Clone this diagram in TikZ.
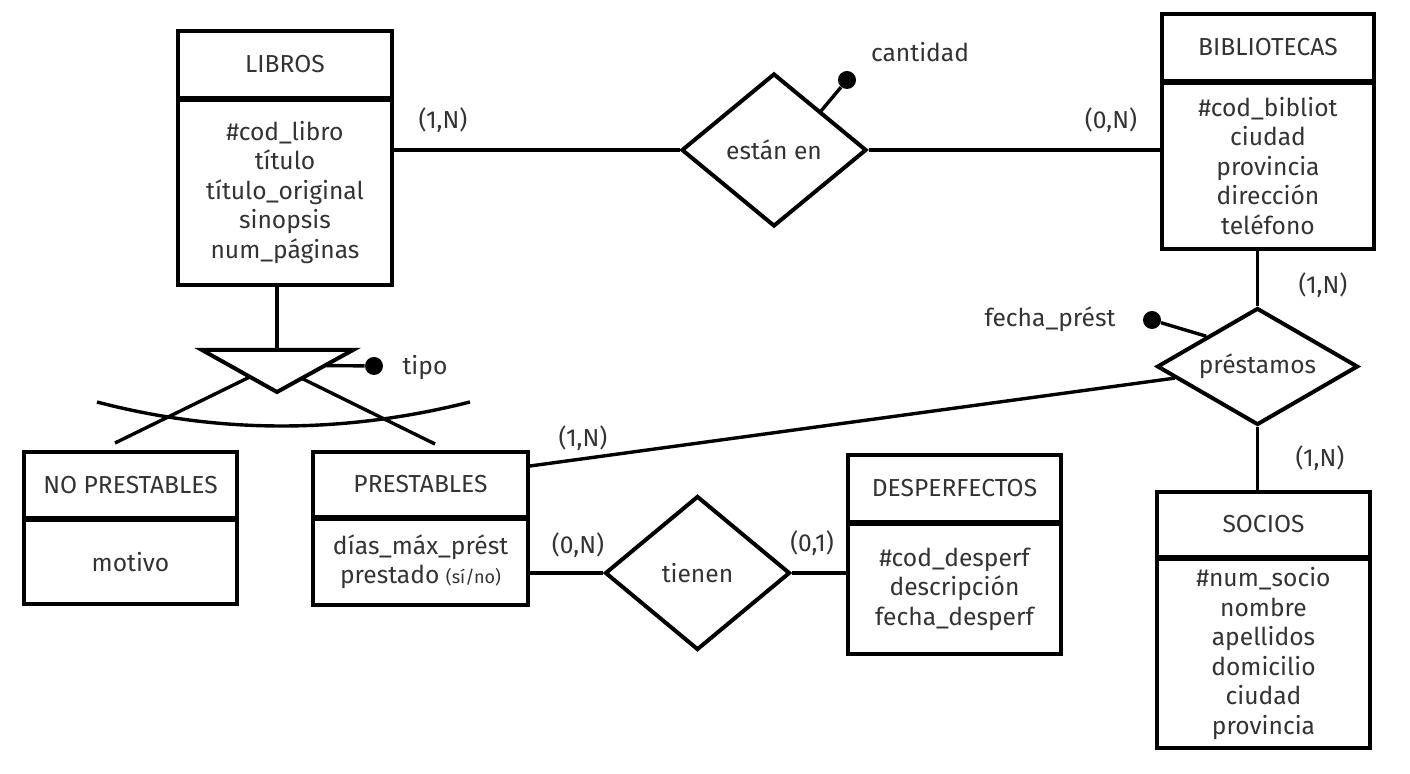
\documentclass[tikz,border=0pt]{standalone}
\usepackage{fontspec}
\setmainfont{Fira Sans}
\usepackage{tikz}
\usetikzlibrary{calc, positioning, shapes.geometric}
\usepackage{xcolor}
\definecolor{texto}{HTML}{333333}

\begin{document}
\begin{tikzpicture}[x=0.5pt, y=-0.5pt,
    letra/.style={text=texto, font=\fontsize{12.3}{14.75}\selectfont, inner sep=0pt},
    caja/.style={letra, draw=black, line width=2pt, align=center},
    relacion/.style={letra, diamond, draw=black, line width=2pt},
    linea/.style={line width=1.7pt},
    punto/.style={circle, fill=black, inner sep=0pt, minimum size=9pt}]
    \useasboundingbox (0,0) rectangle (1410,774);

    % LIBROS
    \node[caja, minimum width=107pt, minimum height=33.5pt] (libros) at (285,64.5) {LIBROS};
    \node[caja, minimum width=107pt, minimum height=92.5pt, below=-1pt of libros] (libros-at)
        {\#cod\_libro\\título\\título\_original\\sinopsis\\num\_páginas};

    % BIBLIOTECAS
    \node[caja, minimum width=106pt, minimum height=33.5pt] (biblio) at (1268,47.5) {BIBLIOTECAS};
    \node[caja, minimum width=106pt, minimum height=83pt, below=-1pt of biblio] (biblio-at)
        {\#cod\_bibliot\\ciudad\\provincia\\dirección\\teléfono};

    % NO PRESTABLES
    \node[caja, minimum width=106.5pt, minimum height=33pt] (noprest) at (130.5,485) {NO PRESTABLES};
    \node[caja, minimum width=106.5pt, minimum height=42pt, below=-1pt of noprest] (noprest-at) {motivo};

    % PRESTABLES
    \node[caja, minimum width=107.5pt, minimum height=32.5pt] (prest) at (420.5,484.5) {PRESTABLES};
    \node[caja, minimum width=107.5pt, minimum height=43pt, below=-1pt of prest] (prest-at)
        {días\_máx\_prést\\prestado {\fontsize{9}{10}\selectfont(sí/no)}};

    % DESPERFECTOS
    \node[caja, minimum width=106.5pt, minimum height=33.5pt] (desperf) at (954.5,488.5) {DESPERFECTOS};
    \node[caja, minimum width=106.5pt, minimum height=65pt, below=-1pt of desperf] (desperf-at)
        {\#cod\_desperf\\descripción\\fecha\_desperf};

    % SOCIOS
    \node[caja, minimum width=106.5pt, minimum height=32.5pt] (socios) at (1263.5,524.5) {SOCIOS};
    \node[caja, minimum width=106.5pt, minimum height=94.5pt, below=-1pt of socios] (socios-at)
        {\#num\_socio\\nombre\\apellidos\\domicilio\\ciudad\\provincia};

    % relaciones
    \node[relacion, aspect=1.21, minimum width=92.5pt, minimum height=76.5pt] (estan) at (774,150) {están en};
    \node[relacion, aspect=1.72, minimum width=100.5pt, minimum height=58.5pt] (prestamos) at (1257.5,366.5) {préstamos};
    \node[relacion, aspect=1.2, minimum width=92.5pt, minimum height=77pt] (tienen) at (697.5,573) {tienen};

    \draw[linea] (libros-at.east |- estan.west) -- (estan.west);
    \draw[linea] (estan.east) -- (estan.east -| biblio-at.west);
    \draw[linea] (prestamos.north) -- (prestamos.north |- biblio-at.south);
    \draw[linea] (prestamos.south) -- (prestamos.south |- socios.north);
    \draw[linea] (prestamos.188) -- ([yshift=-8pt]prest.north east);
    \draw[linea] (tienen.west) -- (tienen.west -| prest-at.east);
    \draw[linea] (tienen.east) -- (tienen.east -| desperf-at.west);

    % atributos de relaciones
    \node[punto] (cantidad-p) at (847,80) {};
    \draw[linea] (estan.north east) -- (cantidad-p);
    \node[letra] (cantidad) at (920,52) {cantidad};
    \node[punto] (fecha-p) at (1152,320) {};
    \draw[linea] (prestamos.north west) -- (fecha-p);
    \node[letra] (fecha) at (1050,319) {fecha\_prést};

    % cardinalidades
    \node[letra] (c1) at (443,120) {(1,N)};
    \node[letra] (c2) at (1111,120) {(0,N)};
    \node[letra] (c3) at (1323,285) {(1,N)};
    \node[letra] (c4) at (1320,458) {(1,N)};
    \node[letra] (c5) at (583,438) {(1,N)};
    \node[letra] (c6) at (578,545) {(0,N)};
    \node[letra] (c7) at (812,543) {(0,1)};

    % jerarquía
    \coordinate (isa) at (277,350);
    \coordinate (isa-i) at (202,350);
    \coordinate (isa-d) at (353,350);
    \coordinate (isa-v) at (277,392);
    \draw[line width=2pt] (isa-i) -- (isa-d) -- (isa-v) -- cycle;
    \draw[linea] (isa) -- (isa |- libros-at.south);
    \draw[linea] (97,402) .. controls (219,434) and (343,434) .. (470,402);
    \coordinate (hacia-no) at ([xshift=-7.75pt, yshift=3.5pt]noprest.north);
    \coordinate (hacia-si) at ([xshift=7.25pt, yshift=3pt]prest.north);
    \draw[linea] ($(isa-i)!0.64!(isa-v)$) -- (hacia-no);
    \draw[linea] ($(isa-v)!0.325!(isa-d)$) -- (hacia-si);
    \node[punto] (tipo-p) at (374,366) {};
    \draw[linea] ($(isa-v)!0.63!(isa-d)$) -- (tipo-p);
    \node[letra] (tipo) at (425,368) {tipo};
\end{tikzpicture}
\end{document}
